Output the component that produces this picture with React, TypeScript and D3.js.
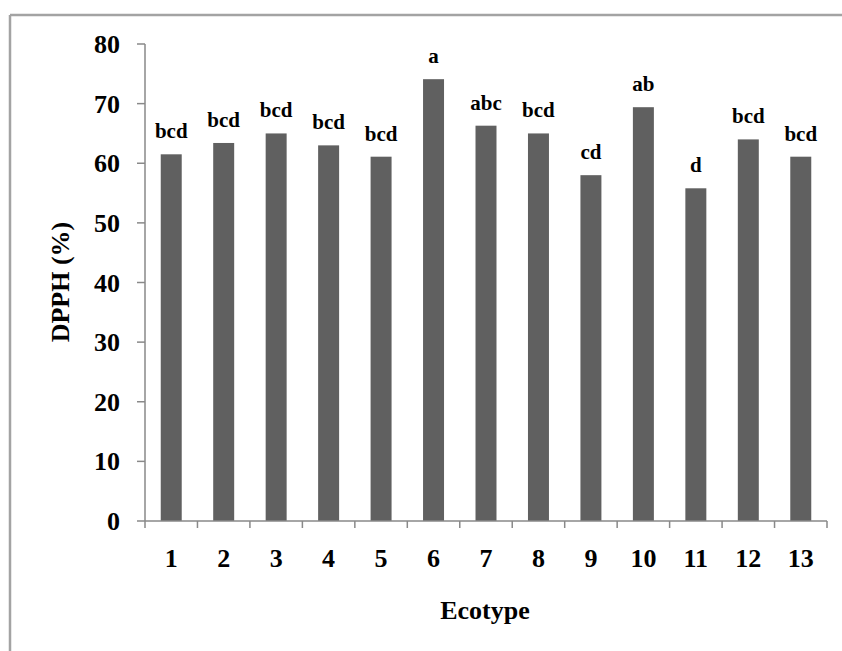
import React from "react";
import * as d3 from "d3";

const ecotypes = ["1", "2", "3", "4", "5", "6", "7", "8", "9", "10", "11", "12", "13"];
const dpph = [61.5, 63.4, 65.0, 63.0, 61.1, 74.1, 66.3, 65.0, 58.0, 69.4, 55.8, 64.0, 61.1];
const letters = ["bcd", "bcd", "bcd", "bcd", "bcd", "a", "abc", "bcd", "cd", "ab", "d", "bcd", "bcd"];
const yTicks = [0, 10, 20, 30, 40, 50, 60, 70, 80];

const width = 842;
const height = 651;
const margin = { top: 44, right: 15, bottom: 131, left: 145 };
const font = "'Liberation Serif', 'Times New Roman', serif";
const axisColor = "#898989";

const App = () => {
  const x = d3
    .scaleBand()
    .domain(ecotypes)
    .range([margin.left, 827])
    .paddingInner(0.6)
    .paddingOuter(0.3);

  const y = d3
    .scaleLinear()
    .domain([0, 80])
    .range([height - margin.bottom + 1, margin.top]);

  // band edges for the category tick marks
  const step = x.step();
  const x0 = margin.left;
  const edges = d3.range(ecotypes.length + 1).map((i) => x0 + i * step);

  return (
    <svg
      width={width}
      height={height}
      style={{ position: "absolute", left: 0, top: 0, background: "#fff" }}
      fontFamily={font}
      fontWeight="bold"
    >
      {/* outer frame, cut at right and bottom */}
      <line x1={10} x2={width} y1={15} y2={15} stroke="#a3a3a3" strokeWidth={2.5} />
      <line x1={10} x2={10} y1={15} y2={height} stroke="#a3a3a3" strokeWidth={2.5} />

      {/* bars */}
      {dpph.map((v, i) => {
        const cx = x0 + (i + 0.5) * step;
        const bw = step * 0.4;
        return (
          <g key={i}>
            <rect
              x={cx - bw / 2}
              y={y(v)}
              width={bw}
              height={y(0) - y(v)}
              fill="#606060"
            />
            <text x={cx} y={y(v) - 16} textAnchor="middle" fontSize={21} fill="#000">
              {letters[i]}
            </text>
          </g>
        );
      })}

      {/* y axis */}
      <line x1={x0} x2={x0} y1={y(80)} y2={y(0)} stroke={axisColor} strokeWidth={1.5} />
      {yTicks.map((t) => (
        <g key={t}>
          <line x1={x0 - 8} x2={x0} y1={y(t)} y2={y(t)} stroke={axisColor} strokeWidth={1.5} />
          <text x={120} y={y(t) + 9} textAnchor="end" fontSize={26} fill="#000">
            {t}
          </text>
        </g>
      ))}

      {/* x axis */}
      <line x1={x0} x2={edges[edges.length - 1]} y1={y(0)} y2={y(0)} stroke={axisColor} strokeWidth={1.5} />
      {edges.map((e, i) => (
        <line key={i} x1={e} x2={e} y1={y(0)} y2={y(0) + 7} stroke={axisColor} strokeWidth={1.5} />
      ))}
      {ecotypes.map((c, i) => (
        <text key={c} x={x0 + (i + 0.5) * step} y={567} textAnchor="middle" fontSize={26} fill="#000">
          {c}
        </text>
      ))}

      {/* axis titles */}
      <text x={485} y={619} textAnchor="middle" fontSize={26} fill="#000">
        Ecotype
      </text>
      <text
        transform={`translate(69, 282) rotate(-90)`}
        textAnchor="middle"
        fontSize={26}
        fill="#000"
      >
        DPPH (%)
      </text>
    </svg>
  );
};

export default App;
